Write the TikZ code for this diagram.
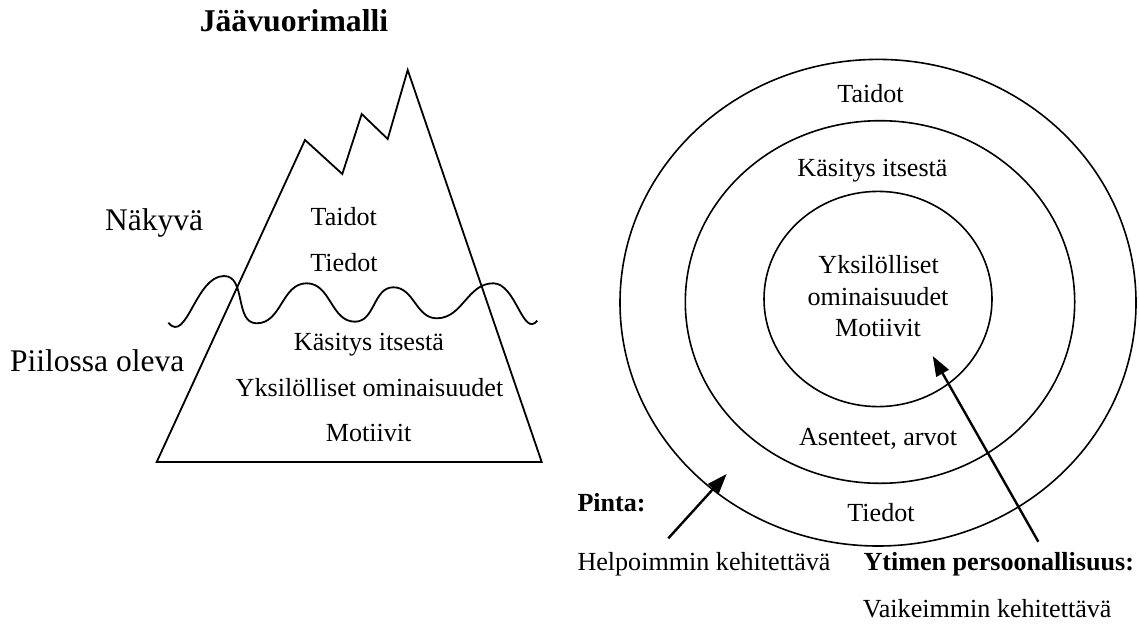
\documentclass[tikz,border=0pt]{standalone}
\usepackage{fontspec}
\setmainfont{Liberation Serif}
\usetikzlibrary{arrows.meta}
\begin{document}
\begin{tikzpicture}[x=1pt,y=-1pt,
  txt/.style={inner sep=0pt, anchor=base, font=\fontsize{26.1}{30}\selectfont},
  ltxt/.style={inner sep=0pt, anchor=base west, font=\fontsize{26.1}{30}\selectfont},
  lbold/.style={inner sep=0pt, anchor=base west, font=\fontsize{26.1}{30}\selectfont\bfseries},
  big/.style={inner sep=0pt, anchor=base west, font=\fontsize{31.5}{36}\selectfont},
  titletxt/.style={inner sep=0pt, anchor=base, font=\fontsize{31.7}{36}\selectfont\bfseries},
  shapeline/.style={line width=1.8pt, line join=miter},
  ring/.style={line width=1.6pt},
  pointer/.style={line width=2.4pt, -{Triangle[length=20pt,width=14pt]}}]
\useasboundingbox (0,0) rectangle (1139,623);

% title
\node[titletxt] (title) at (294,31.7) {Jäävuorimalli};

% iceberg
\draw[shapeline] (156.7,462) -- (305,140) -- (342.3,174) -- (361.7,114)
  -- (387.7,139) -- (407.7,70) -- (541.7,462) -- cycle;
% water line
\draw[shapeline] (168.3,322.7) to[out=-50,in=180] (224,276)
  to[out=0,in=180] (256.7,323.3) to[out=0,in=180] (306.7,283.3)
  to[out=0,in=180] (355,321.7) to[out=0,in=180] (393.3,287.3)
  to[out=0,in=180] (436.7,318.3) to[out=0,in=180] (493.3,283.3)
  to[out=0,in=-130] (537.3,320.7);

\node[big] (nakyva) at (105,230) {Näkyvä};
\node[big] (piilo) at (10,371.7) {Piilossa oleva};

\node[txt] (ib1) at (343.8,225) {Taidot};
\node[txt] (ib2) at (344,271.7) {Tiedot};
\node[txt] (ib3) at (369,350) {Käsitys itsestä};
\node[txt] (ib4) at (369.5,396) {Yksilölliset ominaisuudet};
\node[txt] (ib5) at (368.7,441.7) {Motiivit};

% rings
\draw[ring] (878,302.7) ellipse [x radius=258pt, y radius=243.3pt];
\draw[ring] (880,302) ellipse [x radius=194.7pt, y radius=181.3pt];
\draw[ring] (878,299) ellipse [x radius=114pt, y radius=107.6pt];

\node[txt] (r1) at (870.5,102.7) {Taidot};
\node[txt] (r2) at (872.5,176.7) {Käsitys itsestä};
\node[txt] (r3) at (878.6,273) {Yksilölliset};
\node[txt] (r4) at (878,305) {ominaisuudet};
\node[txt] (r5) at (878,336) {Motiivit};
\node[txt] (r6) at (878,445) {Asenteet, arvot};
\node[txt] (r7) at (881,521.7) {Tiedot};

% arrows
\coordinate (ptail) at (668.3,538.3);
\coordinate (ptip) at (726.7,474);
\coordinate (ytail) at (1038.3,541.7);
\coordinate (ytip) at (932.7,356);
\draw[pointer] (ptail) -- (ptip);
\draw[pointer] (ytail) -- (ytip);

\node[lbold] (pinta) at (577.3,511.7) {Pinta:};
\node[ltxt] (helpo) at (577.3,570) {Helpoimmin kehitettävä};
\node[lbold] (ydin) at (863.3,570.7) {Ytimen persoonallisuus:};
\node[ltxt] (vaikea) at (862.7,617.3) {Vaikeimmin kehitettävä};
\end{tikzpicture}
\end{document}
